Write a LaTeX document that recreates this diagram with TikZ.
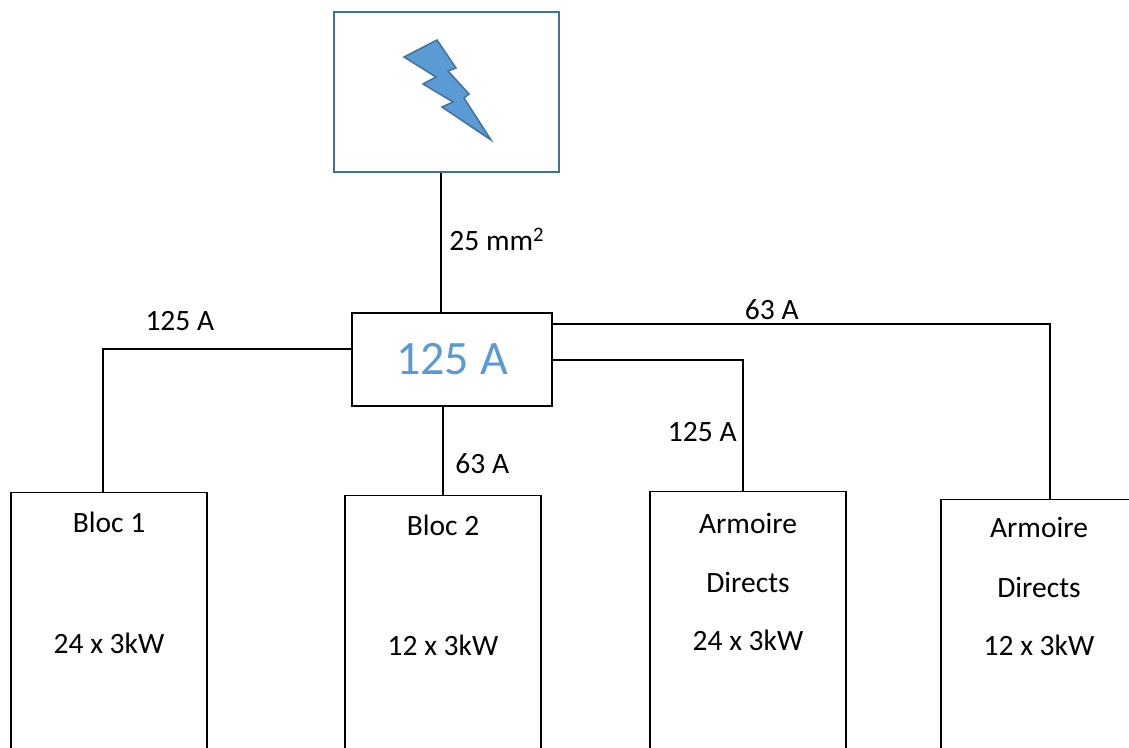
\documentclass[tikz,border=0pt]{standalone}
\usepackage{fontspec}
\setmainfont{Carlito}
\usetikzlibrary{positioning}
\definecolor{boltblue}{HTML}{5B9BD5}
\definecolor{boltline}{HTML}{41719C}
\tikzstyle{source} = [rectangle, draw=boltline, line width=2.6pt,
    minimum width=225pt, minimum height=160pt, inner sep=0pt]
\tikzstyle{breaker} = [rectangle, draw, line width=2.4pt, minimum width=200pt,
    minimum height=93pt, font=\fontsize{48}{56}\selectfont, text=boltblue]
\tikzstyle{load} = [rectangle, draw, line width=1.3pt, anchor=north,
    minimum width=196pt, minimum height=320pt]
\tikzstyle{line} = [draw, line width=2.2pt]
\tikzstyle{every node}=[font=\fontsize{29.5}{35}\selectfont]

\begin{document}
\begin{tikzpicture}[x=1pt, y=-1pt]
    \clip (0,0) rectangle (1129,747);
    % Place nodes
    \node [source] (supply) at (446.5,92) {};
    \node [breaker] (main) at (452,359.5) {125 A};
    \node [load] (bloc1) at (109,492) {};
    \node [load] (bloc2) at (443,495) {};
    \node [load] (armoire1) at (748,491) {};
    \node [load] (armoire2) at (1039,498.5) {};

    % lightning bolt
    \draw [fill=boltblue, draw=boltline, line width=1.5pt, line join=miter]
        (404,57) -- (437,40) -- (456,68) -- (448,71) -- (469,94) -- (464,98)
        -- (491,140) -- (442,107) -- (453,102) -- (423,84) -- (436,77) -- cycle;

    % box texts
    \node at ([yshift=-30pt]bloc1.north) {Bloc 1};
    \node at ([yshift=-151pt]bloc1.north) {24 x 3kW};
    \node at ([yshift=-30pt]bloc2.north) {Bloc 2};
    \node at ([yshift=-150pt]bloc2.north) {12 x 3kW};
    \node at ([yshift=-32pt]armoire1.north) {Armoire};
    \node at ([yshift=-91pt]armoire1.north) {Directs};
    \node at ([yshift=-149pt]armoire1.north) {24 x 3kW};
    \node at ([yshift=-29pt]armoire2.north) {Armoire};
    \node at ([yshift=-89pt]armoire2.north) {Directs};
    \node at ([yshift=-147pt]armoire2.north) {12 x 3kW};

    % Draw edges
    \path [line] ([xshift=-5.5pt]supply.south) -- node [right=4pt, pos=0.48] {25 mm\textsuperscript{2}}
        ([xshift=-5.5pt]supply.south |- main.north);
    \path [line] ([yshift=10.5pt]main.west) -| node [above=14pt, pos=0.345] {125 A}
        ([xshift=-6pt]bloc1.north);
    \path [line] (bloc2.north |- main.south) -- node [right=8pt, pos=0.64] {63 A} (bloc2.north);
    \path [line] ([yshift=35.5pt]main.east) -| node [above=0pt, pos=0.22] {63 A}
        ([xshift=11pt]armoire2.north);
    \path [line] ([yshift=-0.5pt]main.east) -| node [left=2pt, pos=0.775] {125 A}
        ([xshift=-5pt]armoire1.north);

\end{tikzpicture}
\end{document}
